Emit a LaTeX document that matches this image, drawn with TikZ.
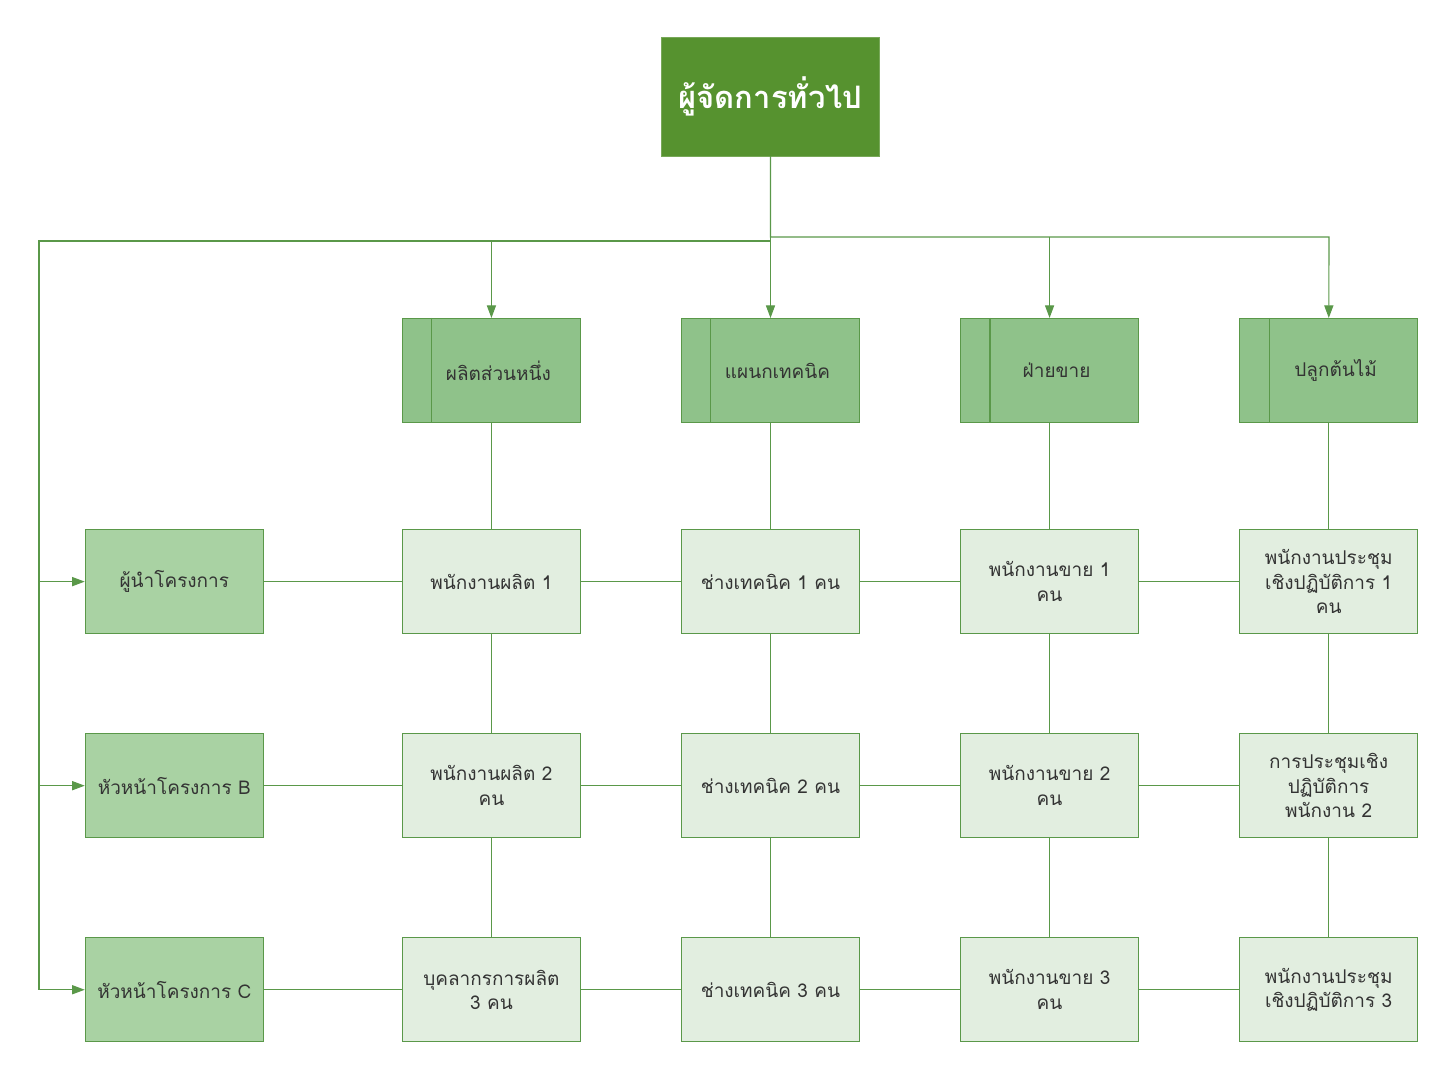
\documentclass[tikz,border=0pt]{standalone}
\usepackage{fontspec}
\setmainfont[Script=Thai]{Loma}
\usetikzlibrary{arrows.meta}
\definecolor{gmgreen}{HTML}{56922F}
\definecolor{deptgreen}{HTML}{8FC28A}
\definecolor{leadgreen}{HTML}{A9D2A3}
\definecolor{staffgreen}{HTML}{E2EEE0}
\definecolor{linegreen}{HTML}{5A9849}
\definecolor{textgray}{HTML}{333333}
\begin{document}
\begin{tikzpicture}[x=0.025cm, y=-0.025cm, node distance=6.975cm, >={Triangle[length=9pt,width=6.5pt]},
  line/.style={draw=linegreen, line width=0.8pt},
  gmbox/.style={draw=gmgreen!80!white, fill=gmgreen, text=white, font=\bfseries\fontsize{22}{26}\selectfont, minimum width=5.45cm, minimum height=2.975cm},
  deptbox/.style={draw=linegreen, line width=0.8pt, fill=deptgreen, text=textgray, font=\fontsize{13.5}{17.5}\selectfont, minimum width=4.45cm, minimum height=2.6cm, execute at begin node=\hspace*{0.35cm}},
  leadbox/.style={draw=linegreen, line width=0.8pt, fill=leadgreen, text=textgray, font=\fontsize{13.5}{17.5}\selectfont, minimum width=4.45cm, minimum height=2.6cm, align=center},
  staffbox/.style={draw=linegreen, line width=0.8pt, fill=staffgreen, text=textgray, font=\fontsize{13.5}{17.5}\selectfont, minimum width=4.45cm, minimum height=2.6cm, align=center}]
\useasboundingbox (0,0) rectangle (1455,1078);

\node[gmbox] (gm) at (770.5,96.5) {ผู้จัดการทั่วไป};

\node[deptbox, below of=gm, yshift=0.125cm] (tech) {แผนกเทคนิค};
\node[deptbox, left of=tech] (prod) {ผลิตส่วนหนึ่ง};
\node[deptbox, right of=tech] (sales) {ฝ่ายขาย};
\node[deptbox, right of=sales] (plant) {ปลูกต้นไม้};

\draw[line] ([xshift=0.75cm]prod.north west) -- ([xshift=0.75cm]prod.south west);
\draw[line] ([xshift=0.75cm]tech.north west) -- ([xshift=0.75cm]tech.south west);
\draw[line] ([xshift=0.75cm]sales.north west) -- ([xshift=0.75cm]sales.south west);
\draw[line] ([xshift=0.75cm]plant.north west) -- ([xshift=0.75cm]plant.south west);

\node[staffbox, below of=tech, yshift=1.7cm] (tech1) {ช่างเทคนิค 1 คน};
\node[staffbox, left of=tech1] (prod1) {พนักงานผลิต 1};
\node[staffbox, right of=tech1] (sales1) {พนักงานขาย 1\\คน};
\node[staffbox, right of=sales1] (plant1) {พนักงานประชุม\\เชิงปฏิบัติการ 1\\คน};
\node[leadbox, left of=prod1, xshift=-0.95cm] (lead) {ผู้นำโครงการ};

\node[staffbox, below of=tech1, yshift=1.875cm] (tech2) {ช่างเทคนิค 2 คน};
\node[staffbox, left of=tech2] (prod2) {พนักงานผลิต 2\\คน};
\node[staffbox, right of=tech2] (sales2) {พนักงานขาย 2\\คน};
\node[staffbox, right of=sales2] (plant2) {การประชุมเชิง\\ปฏิบัติการ\\พนักงาน 2};
\node[leadbox, left of=prod2, xshift=-0.95cm] (leadB) {หัวหน้าโครงการ B};

\node[staffbox, below of=tech2, yshift=1.875cm] (tech3) {ช่างเทคนิค 3 คน};
\node[staffbox, left of=tech3] (prod3) {บุคลากรการผลิต\\3 คน};
\node[staffbox, right of=tech3] (sales3) {พนักงานขาย 3\\คน};
\node[staffbox, right of=sales3] (plant3) {พนักงานประชุม\\เชิงปฏิบัติการ 3};
\node[leadbox, left of=prod3, xshift=-0.95cm] (leadC) {หัวหน้าโครงการ C};

% buses from the general manager
\coordinate (busL) at (39,241);
\coordinate (busR) at (1329,237);
\draw[line, ->] (gm) -- (tech);
\draw[line, ->] (gm.south) |- (busL) |- (leadC);
\draw[line, ->] (prod |- busL) -- (prod);
\draw[line, ->] (gm.south) |- (busR) -- (plant);
\draw[line, ->] (sales |- busR) -- (sales);
\draw[line, ->] (lead -| busL) -- (lead);
\draw[line, ->] (leadB -| busL) -- (leadB);

% columns
\draw[line] (prod) -- (prod1) -- (prod2) -- (prod3);
\draw[line] (tech) -- (tech1) -- (tech2) -- (tech3);
\draw[line] (sales) -- (sales1) -- (sales2) -- (sales3);
\draw[line] (plant) -- (plant1) -- (plant2) -- (plant3);

% rows
\draw[line] (lead) -- (prod1) -- (tech1) -- (sales1) -- (plant1);
\draw[line] (leadB) -- (prod2) -- (tech2) -- (sales2) -- (plant2);
\draw[line] (leadC) -- (prod3) -- (tech3) -- (sales3) -- (plant3);
\end{tikzpicture}
\end{document}
